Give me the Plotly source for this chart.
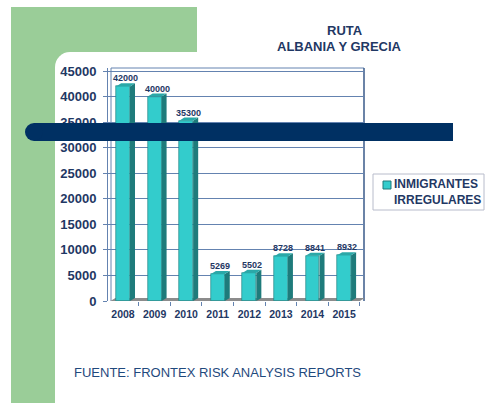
import plotly.graph_objects as go

years = ["2008", "2009", "2010", "2011", "2012", "2013", "2014", "2015"]
values = [42000, 40000, 35300, 5269, 5502, 8728, 8841, 8932]
y_ticks = [0, 5000, 10000, 15000, 20000, 25000, 30000, 35000, 40000, 45000]
series_name = ["INMIGRANTES", "IRREGULARES"]
title_lines = ["RUTA", "ALBANIA Y GRECIA"]
source_text = "FUENTE: FRONTEX RISK ANALYSIS REPORTS"

W, H = 485, 403
ML, MR, MT, MB = 108, 121, 68, 102
PW, PH = W - ML - MR, H - MT - MB
NAVY = "#1F3864"
FRONT = "#33CCCC"
SIDE = "#1E7B7B"
TOP = "#2AA8A8"
GRID = "#6483B0"

def px(x):
    return (x - ML) / PW

def py(y):
    return (H - MB - y) / PH

xs = list(range(len(years)))
bw = 0.44
dx = 0.16
dy = 600

fig = go.Figure()
fig.add_trace(go.Bar(x=xs, y=values, width=bw, marker=dict(color=FRONT, line=dict(width=0.6, color=SIDE)),
                     showlegend=False, hoverinfo="skip"))

shapes = []
shapes.append(dict(type="rect", xref="paper", yref="paper", x0=px(11), x1=px(197), y0=py(7), y1=py(403),
                   fillcolor="#9ACD98", line=dict(width=0), layer="below"))
shapes.append(dict(type="rect", xref="paper", yref="paper", x0=px(55), x1=px(485), y0=py(67), y1=py(403),
                   fillcolor="white", line=dict(width=0), layer="below"))
shapes.append(dict(type="rect", xref="paper", yref="paper", x0=px(70), x1=px(485), y0=py(52), y1=py(403),
                   fillcolor="white", line=dict(width=0), layer="below"))
shapes.append(dict(type="circle", xref="paper", yref="paper", x0=px(55), x1=px(85), y0=py(52), y1=py(82),
                   fillcolor="white", line=dict(width=0), layer="below"))
shapes.append(dict(type="path", xref="x", yref="y", layer="below",
                   path=f"M -0.4,0 L 7.5,0 L {7.5+dx},{dy} L {-0.4+dx},{dy} Z",
                   fillcolor="#8C8C8C", line=dict(width=0)))
shapes.append(dict(type="line", xref="paper", yref="paper", x0=px(111), x1=px(111), y0=0, y1=1,
                   line=dict(color=GRID, width=1), layer="below"))
shapes.append(dict(type="line", xref="paper", yref="paper", x0=px(111), x1=1, y0=1, y1=1,
                   line=dict(color=GRID, width=1), layer="below"))
shapes.append(dict(type="line", xref="paper", yref="paper", x0=1, x1=1, y0=0, y1=1,
                   line=dict(color="#3A5A8A", width=1.5), layer="below"))
for x, v in zip(xs, values):
    r = x + bw / 2
    l = x - bw / 2
    shapes.append(dict(type="path", xref="x", yref="y",
                       path=f"M {r},0 L {r},{v} L {r+dx},{v+dy} L {r+dx},{dy} Z",
                       fillcolor=SIDE, line=dict(width=0)))
    shapes.append(dict(type="path", xref="x", yref="y",
                       path=f"M {l},{v} L {r},{v} L {r+dx},{v+dy} L {l+dx},{v+dy} Z",
                       fillcolor=TOP, line=dict(width=0)))
shapes.append(dict(type="rect", xref="paper", yref="paper", x0=px(34), x1=px(453), y0=py(123), y1=py(141),
                   fillcolor="#003063", line=dict(width=0)))
shapes.append(dict(type="circle", xref="paper", yref="paper", x0=px(25), x1=px(43), y0=py(123), y1=py(141),
                   fillcolor="#003063", line=dict(width=0)))
shapes.append(dict(type="rect", xref="paper", yref="paper", x0=px(373), x1=px(484), y0=py(174), y1=py(210),
                   fillcolor="white", line=dict(color="#B8BCCB", width=1)))
shapes.append(dict(type="rect", xref="paper", yref="paper", x0=px(383), x1=px(391), y0=py(181), y1=py(189),
                   fillcolor=FRONT, line=dict(color=SIDE, width=1)))

annotations = []
for x, v in zip(xs, values):
    annotations.append(dict(x=x + dx / 2, y=v, xref="x", yref="y", text="<b>%d</b>" % v, showarrow=False,
                            yanchor="bottom", yshift=1, font=dict(size=9, color=NAVY, family="Liberation Sans")))
annotations.append(dict(x=px(345), y=py(31), xref="paper", yref="paper", text="<b>" + title_lines[0] + "</b>",
                        showarrow=False, xanchor="center", yanchor="middle",
                        font=dict(size=13, color=NAVY, family="Liberation Sans")))
annotations.append(dict(x=px(339), y=py(46), xref="paper", yref="paper", text="<b>" + title_lines[1] + "</b>",
                        showarrow=False, xanchor="center", yanchor="middle",
                        font=dict(size=13, color=NAVY, family="Liberation Sans")))
annotations.append(dict(x=px(392), y=py(192), xref="paper", yref="paper", xanchor="left", yanchor="middle",
                        align="left", text="<b>" + "<br>".join(series_name) + "</b>", showarrow=False,
                        font=dict(size=12, color=NAVY, family="Liberation Sans")))
annotations.append(dict(x=px(72), y=py(372), xref="paper", yref="paper", xanchor="left", yanchor="middle",
                        text=source_text, showarrow=False,
                        font=dict(size=13, color="#1F497D", family="Liberation Sans")))

fig.update_layout(
    width=W, height=H,
    margin=dict(l=ML, r=MR, t=MT, b=MB, pad=0),
    paper_bgcolor="white", plot_bgcolor="rgba(0,0,0,0)",
    shapes=shapes, annotations=annotations, bargap=0,
    font=dict(family="Liberation Sans", color=NAVY),
)
fig.update_xaxes(range=[-0.475, 7.63], tickvals=xs, ticktext=["<b>%s</b>" % y for y in years],
                 tickfont=dict(size=10.5, color=NAVY), showgrid=False, zeroline=False,
                 showline=False, ticks="", ticklen=0, ticklabelstandoff=5,
                 minor=dict(tickvals=[i - 0.5 for i in range(len(years) + 1)], ticks="outside",
                            ticklen=4, tickcolor=GRID, showgrid=False))
fig.update_yaxes(range=[0, 45600], tickvals=y_ticks, ticktext=["<b>%d</b>" % t for t in y_ticks],
                 tickfont=dict(size=13, color=NAVY), showgrid=True, gridcolor=GRID, gridwidth=1,
                 zeroline=False, showline=True, linecolor=GRID, linewidth=1,
                 ticks="outside", ticklen=4, tickcolor=GRID, ticklabelstandoff=4)

fig.write_html("out.html", config={"displayModeBar": False})
with open("out.html", "r", encoding="utf-8") as f:
    html = f.read()
html = html.replace("<head>", "<head><style>html,body{margin:0;padding:0;overflow:hidden}</style>", 1)
with open("out.html", "w", encoding="utf-8") as f:
    f.write(html)
